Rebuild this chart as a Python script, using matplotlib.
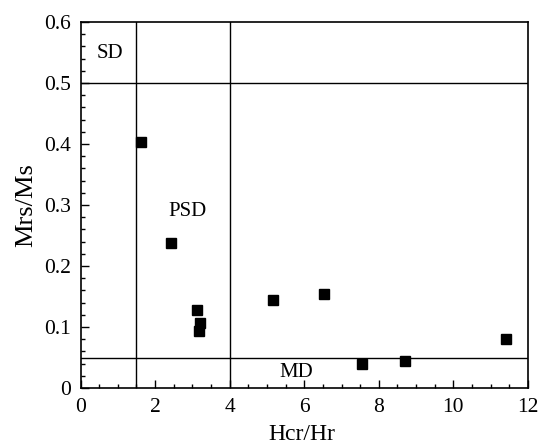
import numpy as np
import matplotlib
matplotlib.use('Agg')
import matplotlib.pyplot as plt
from matplotlib.ticker import MultipleLocator

plt.rcParams['font.family'] = ['Liberation Serif', 'DejaVu Serif']
plt.rcParams['mathtext.fontset'] = 'stix'

# Hcr/Hr vs Mrs/Ms (Day plot)
hcr_hr = [1.63, 2.42, 3.12, 3.21, 3.17, 5.17, 6.52, 7.55, 8.71, 11.42]
mrs_ms = [0.404, 0.238, 0.128, 0.106, 0.094, 0.144, 0.154, 0.039, 0.045, 0.081]

fig = plt.figure(figsize=(5.53, 4.46), dpi=100)
ax = fig.add_axes([80.5/553, 58/446, (528-80.5)/553, (388-22)/446])

# domain boundaries
ax.axvline(1.5, color='k', lw=1.0)
ax.axvline(4, color='k', lw=1.0)
ax.axhline(0.5, color='k', lw=1.0)
ax.axhline(0.05, color='k', lw=1.0)

ax.plot(hcr_hr, mrs_ms, 's', color='k', markersize=6.8, linestyle='none')

ax.text(0.79, 0.549, 'SD', fontsize=15, ha='center', va='center')
ax.text(2.88, 0.289, 'PSD', fontsize=15, ha='center', va='center')
ax.text(5.79, 0.026, 'MD', fontsize=15, ha='center', va='center')

ax.set_xlim(0, 12)
ax.set_ylim(0, 0.6)
ax.xaxis.set_major_locator(MultipleLocator(2))
ax.xaxis.set_minor_locator(MultipleLocator(0.5))
ax.yaxis.set_minor_locator(MultipleLocator(0.02))
ax.set_yticks([0, 0.1, 0.2, 0.3, 0.4, 0.5, 0.6])
ax.set_yticklabels(['0', '0.1', '0.2', '0.3', '0.4', '0.5', '0.6'])
ax.tick_params(which='both', direction='in', top=False, right=False, labelsize=15.5)
ax.tick_params(which='major', length=6, width=1, pad=7)
ax.tick_params(which='minor', length=3, width=1)
for s in ax.spines.values():
    s.set_linewidth(1.2)

ax.set_xlabel('Hcr/Hr', fontsize=17)
ax.set_ylabel('Mrs/Ms', fontsize=19)
ax.xaxis.set_label_coords(0.495, -0.098)
ax.yaxis.set_label_coords(-0.097, 0.5)

fig.savefig('out.png', dpi=100)
